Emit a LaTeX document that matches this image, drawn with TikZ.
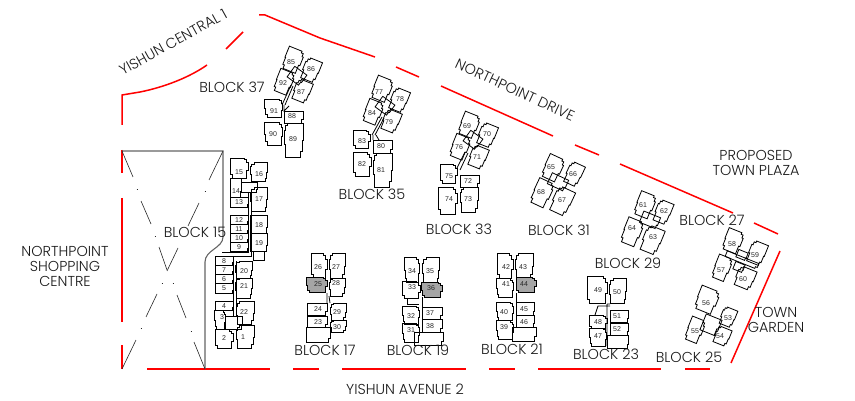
\documentclass[tikz,border=0pt]{standalone}
\usepackage{fontspec}
\setmainfont{Poppins Light}
\newfontfamily\numfont{Liberation Sans}
\definecolor{roadred}{RGB}{255,0,0}
\definecolor{blockgrey}{RGB}{165,165,165}
\definecolor{siteline}{RGB}{100,100,100}
\tikzset{
  road/.style={draw=roadred,line width=1.5pt},
  siteedge/.style={draw=siteline,line width=1.1pt},
  xline/.style={draw=black!85,line width=.6pt},
  unitline/.style={draw=black,line width=.8pt,line join=miter},
  numlabel/.style={font=\numfont\fontsize{7}{8}\selectfont,text=black!85,inner sep=0pt},
  place/.style={font=\fontsize{14.4}{15}\selectfont,text=black!90,inner sep=0pt,align=center},
}
% shapes in unit coordinates
\def\shpA{(-.5,.5)--(.3,.5)--(.3,.42)--(.42,.42)--(.42,.28)--(.5,.28)--(.5,-.12)--(.42,-.12)--(.42,-.5)--(-.36,-.5)--(-.36,-.34)--(-.46,-.34)--(-.46,-.02)--(-.5,-.02)--cycle}
\def\shpB{(.5,.5)--(-.3,.5)--(-.3,.42)--(-.42,.42)--(-.42,.28)--(-.5,.28)--(-.5,-.12)--(-.42,-.12)--(-.42,-.5)--(.36,-.5)--(.36,-.34)--(.46,-.34)--(.46,-.02)--(.5,-.02)--cycle}
\def\shpR{(-.5,.5)--(.5,.5)--(.5,-.2)--(.44,-.2)--(.44,-.5)--(-.5,-.5)--cycle}
% #1 shape, then cx,cy,w,h,rot,lx,ly,text
\newcommand\aptU[9][\shpA]{\begin{scope}[shift={(#2,#3)},rotate=#6,x=#4pt,y=#5pt]\draw[unitline] #1;\end{scope}\node[numlabel] (u#9) at (#7,#8) {#9};}
\newcommand\aptG[9][\shpA]{\begin{scope}[shift={(#2,#3)},rotate=#6,x=#4pt,y=#5pt]\draw[unitline,fill=blockgrey] #1;\end{scope}\node[numlabel] (u#9) at (#7,#8) {#9};}
\newcommand\coreBox[5]{\begin{scope}[shift={(#1,#2)},rotate=#5,x=#3pt,y=#4pt]\draw[unitline] \shpR;\end{scope}}
\begin{document}
\begin{tikzpicture}[x=1pt,y=-1pt]
\useasboundingbox (0,0) rectangle (855,401);
% roads
\draw[road] (122,125)--(122,95)--(140,92) .. controls (165,87) and (190,77) .. (207,65);
\draw[road] (226,49)--(243,32);
\draw[road] (259,15)--(265,15)--(320,38)--(375,57);
\draw[road] (396,67)--(419,77);
\draw[road] (441,86)--(553,136);
\draw[road] (575,145)--(599,155);
\draw[road] (620,164)--(733,213);
\draw[road] (754,223)--(778,234);
\draw[road] (780,251)--(731,363);
\draw[road] (122,150)--(122,173);
\draw[road] (122,198)--(122,322);
\draw[road] (122,345)--(122,369);
\draw[road] (147,369)--(270,369);
\draw[road] (293,369)--(319,369);
\draw[road] (342,369)--(466,369);
\draw[road] (489,369)--(515,369);
\draw[road] (538,369)--(661,369);
\draw[road] (685,369)--(710,369);
% site edge
\draw[siteedge] (122,151)--(223,151)--(223,237) .. controls (223,248) and (205,250) .. (205,262)--(205,369);
% shopping centre crossing lines
\draw[xline] (122,151)--(133,177) (141,201)--(151,224) (159,247)--(167,270) (177,295)--(186,318) (194,342)--(205,369);
\draw[xline] (223,151)--(209,180) (199,203)--(188,226) (178,248)--(167,271) (157,294)--(146,317) (136,340)--(122,369);
\draw[xline] (136.5,189)--(137.5,189) (154.5,236)--(155.5,236) (204.5,191)--(205.5,191);
\draw[xline] (161.5,283)--(162.5,283) (172.5,283)--(173.5,283) (140.5,328)--(141.5,328) (190.5,331)--(191.5,331);
% BLOCK 15
\aptU{239}{168}{18}{20}{0}{239}{172}{15}
\aptU[\shpB]{259}{172}{17}{19}{0}{259}{174}{16}
\aptU[\shpR]{236}{188}{11}{19}{0}{236}{191}{14}
\aptU[\shpR]{239}{202}{18}{10}{0}{239}{202}{13}
\aptU[\shpB]{259}{199}{17}{24}{0}{259}{199}{17}
\coreBox{249}{187}{16}{10}{0}
\draw[unitline] (248,192)--(248,252)--(222,252) (251,192)--(251,256)--(222,256);
\aptU[\shpR]{239}{220}{18}{9}{0}{239}{220}{12}
\aptU[\shpR]{239}{229}{18}{9}{0}{239}{229}{11}
\aptU[\shpR]{239}{238}{18}{9}{0}{239}{238}{10}
\aptU[\shpR]{239}{247}{18}{9}{0}{239}{247}{9}
\aptU[\shpR]{259}{224}{17}{18}{0}{259}{225}{18}
\aptU[\shpR]{259}{242}{17}{18}{0}{259}{243}{19}
\draw[unitline] (253,251)--(253,260)--(264,260)--(264,251);
\aptU[\shpR]{224}{261}{18}{9}{0}{224}{261}{8}
\aptU[\shpR]{224}{270}{18}{9}{0}{224}{270}{7}
\aptU[\shpR]{224}{279}{18}{9}{0}{224}{279}{6}
\aptU[\shpR]{224}{288}{18}{10}{0}{224}{288}{5}
\aptU[\shpR]{224}{306}{18}{9}{0}{224}{306}{4}
\aptU[\shpA]{220}{320}{11}{19}{0}{222}{317}{3}
\aptU[\shpA]{224}{339}{18}{19}{0}{224}{338}{2}
\aptU[\shpB]{245}{337}{18}{23}{0}{243}{337}{1}
\aptU[\shpB]{245}{313}{18}{23}{0}{244}{312}{22}
\aptU[\shpB]{244}{270}{17}{17}{0}{244}{271}{20}
\aptU[\shpB]{244}{288}{17}{20}{0}{244}{286}{21}
\coreBox{234}{323}{17}{13}{0}
\draw[unitline] (233,257)--(233,317) (236,261)--(236,317);
% BLOCK 17
\aptU[\shpA]{319}{266}{16}{25}{0}{318}{267}{26}
\aptU[\shpB]{337}{266}{16}{25}{0}{336}{267}{27}
\aptU[\shpB]{337}{287}{16}{18}{0}{336}{283}{28}
\aptG[\shpA]{317}{285}{21}{15}{0}{318}{284}{25}
\aptU[\shpR]{317}{309}{20}{12}{0}{318}{309}{24}
\aptU[\shpR]{317}{322}{20}{11}{0}{318}{322}{23}
\aptU[\shpB]{338}{312}{16}{17}{0}{337}{312}{29}
\aptU[\shpB]{338}{326}{16}{12}{0}{337}{327}{30}
\coreBox{318}{335}{24}{15}{0}
\draw[unitline] (327,293)--(327,303) (329,296)--(330,303);
% BLOCK 19
\aptU[\shpA]{412}{270}{15}{25}{0}{412}{271}{34}
\aptU[\shpB]{431}{270}{17}{25}{0}{430}{271}{35}
\aptU[\shpA]{411}{290}{18}{17}{0}{412}{287}{33}
\aptG[\shpA]{432}{290}{21}{15}{0}{431}{288}{36}
\aptU[\shpR]{432}{313}{20}{12}{0}{430}{313}{37}
\aptU[\shpR]{432}{326}{20}{13}{0}{430}{326}{38}
\aptU[\shpA]{411}{315}{17}{18}{0}{411}{316}{32}
\aptU[\shpA]{411}{333}{17}{19}{0}{411}{330}{31}
\coreBox{429}{339}{29}{13}{0}
\draw[unitline] (422,297)--(422,307) (407,299)--(407,304)--(419,304);
% BLOCK 21
\aptU[\shpA]{505}{266}{16}{25}{0}{506}{267}{42}
\aptU[\shpB]{524}{266}{18}{25}{0}{523}{267}{43}
\aptU[\shpA]{505}{288}{17}{19}{0}{506}{284}{41}
\aptG[\shpA]{526}{285}{20}{15}{0}{524}{284}{44}
\aptU[\shpR]{525}{309}{18}{13}{0}{524}{309}{45}
\aptU[\shpR]{525}{321}{18}{12}{0}{524}{322}{46}
\aptU[\shpA]{505}{311}{17}{18}{0}{504}{312}{40}
\aptU[\shpA]{505}{330}{17}{19}{0}{504}{327}{39}
\coreBox{524}{334}{24}{14}{0}
\draw[unitline] (516,293)--(516,302);
% BLOCK 23
\aptU[\shpA]{597}{290}{20}{27}{0}{598}{290}{49}
\aptU[\shpB]{618}{291}{17}{25}{0}{617}{292}{50}
\aptU[\shpR]{619}{316}{18}{12}{0}{617}{316}{51}
\aptU[\shpR]{619}{329}{18}{12}{0}{617}{329}{52}
\aptU[\shpA]{598}{322}{18}{13}{0}{598}{322}{48}
\aptU[\shpA]{598}{337}{17}{18}{0}{598}{336}{47}
\coreBox{618}{342}{21}{13}{0}
\draw[unitline] (607,304)--(610,304) (595,315)--(598,306)--(610,306) (607,304)--(607,346);
% BLOCK 37
\aptU{293}{60}{17}{23}{-22}{291}{62}{85}
\aptU[\shpB]{311}{70}{16}{22}{-22}{311}{69}{86}
\aptU{284}{82}{16}{23}{-22}{283}{83}{92}
\aptU[\shpB]{302}{91}{16}{21}{-22}{301}{92}{87}
\coreBox{297}{76}{15}{13}{-36}
\draw[unitline] (291,85)--(282,105) (293,86)--(285,105);
\aptU{273.5}{108}{18}{18}{0}{274}{111}{91}
\aptU[\shpR]{293.5}{117}{19}{12}{0}{292}{116}{88}
\aptU{273.5}{134}{18}{23}{0}{273}{134}{90}
\aptU[\shpB]{293.5}{140}{19}{34}{0}{293}{139}{89}
\draw[unitline] (284,105)--(284,111)--(289,106);
% BLOCK 35
\aptU{382}{89}{17}{23}{-22}{379}{92}{77}
\aptU[\shpB]{399}{100}{16}{22}{-22}{400}{99}{78}
\aptU{373}{112}{16}{23}{-22}{372}{113}{84}
\aptU[\shpB]{391}{121}{16}{21}{-22}{389}{122}{79}
\coreBox{385}{106}{15}{13}{-36}
\draw[unitline] (382,117)--(372,135) (384,118)--(375,135);
\aptU{361.5}{139}{17}{18}{0}{362}{141}{83}
\aptU[\shpR]{382.5}{146.5}{19}{13}{0}{381}{146}{80}
\aptU{362}{164}{18}{24}{0}{362}{164}{82}
\aptU[\shpB]{382.5}{170}{19}{34}{0}{381}{170}{81}
\draw[unitline] (373,135)--(373,140) (376,135)--(379,140);
% BLOCK 33
\aptU{469}{125}{17}{23}{-22}{467}{126}{69}
\aptU[\shpB]{487}{135}{16}{22}{-22}{487}{134}{70}
\aptU{460}{147}{16}{23}{-22}{459}{147}{76}
\aptU[\shpB]{478}{157}{16}{21}{-22}{477}{157}{71}
\coreBox{473}{140}{15}{13}{-36}
\draw[unitline] (465,152)--(457,168) (468,153)--(460,170);
\aptU{448.5}{173.5}{17}{19}{0}{449}{176}{75}
\aptU[\shpR]{469.5}{181}{19}{12}{0}{468}{181}{72}
\aptU[\shpB]{469}{199.5}{18}{25}{0}{468}{199}{73}
\aptU{447.5}{200.5}{19}{27}{0}{449}{199}{74}
% BLOCK 31
\aptU{553}{168}{17}{24}{-25}{551}{167}{65}
\aptU[\shpB]{574}{174}{15}{22}{-25}{573}{174}{66}
\aptU{542}{193}{17}{26}{-25}{541}{192}{68}
\aptU[\shpB]{562}{201}{18}{26}{-25}{562}{200}{67}
\coreBox{558}{182}{18}{12}{-25}
% BLOCK 29
\aptU{645}{205}{17}{24}{-22}{643}{205}{61}
\aptU[\shpB]{663}{212}{15}{22}{-22}{664}{211}{62}
\aptU{632}{232}{17}{26}{-22}{632}{228}{64}
\aptU[\shpB]{652}{240}{18}{26}{-22}{653}{237}{63}
\coreBox{650}{220}{18}{12}{-22}
% BLOCK 27
\aptU{733}{241}{17}{22}{-22}{732}{244}{58}
\aptU[\shpB]{757}{253}{16}{22}{-22}{755}{255}{59}
\aptU{722}{268}{15}{24}{-22}{721}{270}{57}
\aptU[\shpB]{745}{278}{18}{20}{-22}{743}{279}{60}
\coreBox{742}{255}{10}{8}{-22}
\coreBox{742}{260}{34}{6}{-22}
\coreBox{739}{267}{10}{8}{-22}
% BLOCK 25
\aptU{707}{300}{20}{24}{-22}{706}{303}{56}
\aptU[\shpB]{728}{317}{14}{18}{-22}{728}{318}{53}
\aptU[\shpB]{722}{336}{15}{17}{-22}{720}{336}{54}
\aptU{695}{330}{15}{24}{-22}{695}{331}{55}
\coreBox{711}{325}{17}{17}{-22}
% texts
\node[place] (b37) at (232,87) {BLOCK 37};
\node[place] (b35) at (372,194) {BLOCK 35};
\node[place] (b33) at (459,229) {BLOCK 33};
\node[place] (b31) at (559,230) {BLOCK 31};
\node[place] (b29) at (628,263) {BLOCK 29};
\node[place] (b27) at (712,220) {BLOCK 27};
\node[place] (b25) at (689,357) {BLOCK 25};
\node[place] (b23) at (606,354) {BLOCK 23};
\node[place] (b21) at (512,349) {BLOCK 21};
\node[place] (b19) at (418,350) {BLOCK 19};
\node[place] (b17) at (325,350) {BLOCK 17};
\node[place] (b15) at (195,232) {BLOCK 15};
\node[place] (ya2) at (405,389) {YISHUN AVENUE 2};
\node[place,rotate=29] (yc1) at (173,42) {YISHUN CENTRAL 1};
\node[place,rotate=-25] (npd) at (515,90) {NORTHPOINT DRIVE};
\node[place] (ptp) at (756,163) {PROPOSED\\TOWN PLAZA};
\node[place] (nsc) at (65,266) {NORTHPOINT\\SHOPPING\\CENTRE};
\node[place] (tg) at (776,320) {TOWN\\GARDEN};
\end{tikzpicture}
\end{document}
